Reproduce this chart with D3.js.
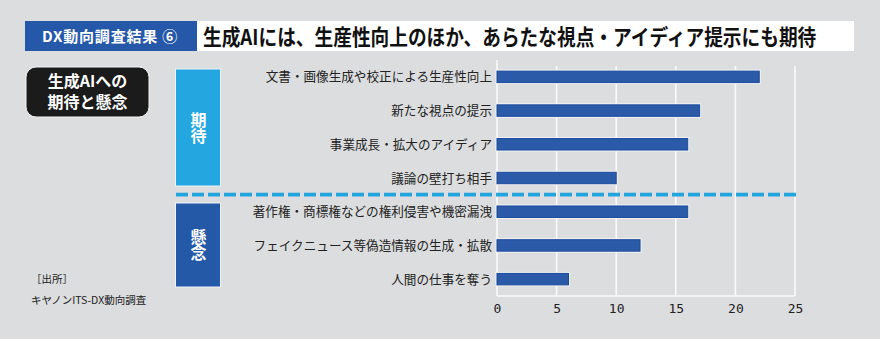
<!DOCTYPE html>
<html lang="ja">
<head>
<meta charset="utf-8">
<script src="https://cdn.jsdelivr.net/npm/d3@7"></script>
<style>
  html, body { margin: 0; padding: 0; background: #dcdddf; }
  svg { display: block; }
  text { font-family: "Noto Sans CJK JP", "Noto Sans", sans-serif; }
  .tick text { font-family: "DejaVu Sans Mono", monospace; }
  .vertical { writing-mode: vertical-rl; }
  .badge-label {
    font-family: "Noto Sans CJK JP", "Noto Sans", sans-serif;
    font-size: 16px; font-weight: 700; color: #fff;
    text-align: center; line-height: 20.5px;
    padding-top: 3.3px; margin: 0; width: 123px;
  }
</style>
</head>
<body>
<svg id="chart" width="880" height="339"></svg>
<script>
// Survey categories, top to bottom
const categories = [
  "文書・画像生成や校正による生産性向上",
  "新たな視点の提示",
  "事業成長・拡大のアイディア",
  "議論の壁打ち相手",
  "著作権・商標権などの権利侵害や機密漏洩",
  "フェイクニュース等偽造情報の生成・拡散",
  "人間の仕事を奪う"
];
// Response values per category
const values = [22, 17, 16, 10, 16, 12, 6];
// Group of each category: 期待 (expectation) or 懸念 (concern)
const groups = ["期待", "期待", "期待", "期待", "懸念", "懸念", "懸念"];
// X axis ticks
const xTicks = [0, 5, 10, 15, 20, 25];

const svg = d3.select("#chart");

// ---- Header ----
svg.append("rect").attr("x", 25).attr("y", 21).attr("width", 172).attr("height", 30)
  .attr("fill", "#2558a8");
svg.append("text").attr("x", 110).attr("y", 42).attr("text-anchor", "middle")
  .attr("fill", "#fff").attr("font-size", 15).attr("font-weight", 700)
  .attr("letter-spacing", 0.8)
  .text("DX動向調査結果 ⑥");
svg.append("rect").attr("x", 197).attr("y", 21).attr("width", 657).attr("height", 30)
  .attr("fill", "#fff");
// condensed headline: scale the glyphs horizontally to fit the bar
const headG = svg.append("g");
const head = headG.append("text").attr("x", 0).attr("y", 0)
  .attr("fill", "#111").attr("font-size", 21.5).attr("font-weight", 700)
  .text("生成AIには、生産性向上のほか、あらたな視点・アイディア提示にも期待");
const headLen = head.node().getComputedTextLength();
headG.attr("transform", `translate(203,44.5) scale(${614 / headLen},1)`);

// ---- Section badge (two-line label) ----
svg.append("rect").attr("x", 26).attr("y", 67).attr("width", 123).attr("height", 50)
  .attr("rx", 10).attr("fill", "#1b1b1b").attr("stroke", "#f4f4f4").attr("stroke-width", 1);
svg.append("foreignObject").attr("x", 26).attr("y", 67).attr("width", 123).attr("height", 50)
  .append("xhtml:div").attr("class", "badge-label")
  .html("生成AIへの<br>期待と懸念");

// ---- Source ----
svg.append("text").attr("x", 31).attr("y", 283).attr("fill", "#222").attr("font-size", 10.5).text("［出所］");
svg.append("text").attr("x", 31).attr("y", 304).attr("fill", "#222").attr("font-size", 10.5)
  .text("キヤノンITS-DX動向調査");

// ---- Bar chart ----
const x = d3.scaleLinear().domain([0, 25]).range([497, 795]);
const y = d3.scaleBand().domain(categories).range([60, 296])
  .paddingInner(0.66).paddingOuter(0.33);

// gridlines
svg.append("g").selectAll("line").data(xTicks).join("line")
  .attr("x1", d => x(d)).attr("x2", d => x(d))
  .attr("y1", d => d === 0 ? 60 : 66).attr("y2", 296)
  .attr("stroke", "#fbfbfb").attr("stroke-width", 1.5);
svg.append("line").attr("x1", x(0)).attr("x2", x(25)).attr("y1", 296).attr("y2", 296)
  .attr("stroke", "#fbfbfb").attr("stroke-width", 1.5);

// bars with a light halo
const bars = svg.append("g").selectAll("g").data(categories).join("g");
bars.append("rect")
  .attr("x", x(0)).attr("y", d => y(d))
  .attr("width", (d, i) => x(values[i]) - x(0)).attr("height", y.bandwidth())
  .attr("fill", "none").attr("stroke", "#f3f3f3").attr("stroke-width", 3);
bars.append("rect")
  .attr("x", x(0)).attr("y", d => y(d))
  .attr("width", (d, i) => x(values[i]) - x(0)).attr("height", y.bandwidth())
  .attr("fill", "#2b5aa8").attr("stroke", "#1a4a9c").attr("stroke-width", 1);

// category labels
svg.append("g").selectAll("text").data(categories).join("text")
  .attr("x", 492).attr("y", d => y(d) + y.bandwidth() / 2)
  .attr("dy", "0.36em").attr("text-anchor", "end")
  .attr("fill", "#222").attr("font-size", 12.6).text(d => d);

// x axis tick labels
const xAxis = svg.append("g").attr("transform", "translate(0,296)")
  .call(d3.axisBottom(x).tickValues(xTicks).tickSize(0).tickPadding(8));
xAxis.select(".domain").remove();
xAxis.selectAll("text").attr("font-size", 13).attr("fill", "#222");

// ---- Group panels (names come from the groups array) ----
const groupNames = Array.from(new Set(groups));
const panelStyle = {
  "期待": { fill: "#24a6e1", y0: 69, y1: 186 },
  "懸念": { fill: "#2459a8", y0: 203, y1: 287 }
};
groupNames.forEach(name => {
  const g = panelStyle[name];
  svg.append("rect").attr("x", 175.5).attr("y", g.y0).attr("width", 45).attr("height", g.y1 - g.y0)
    .attr("fill", g.fill).attr("stroke", "#eef3f8").attr("stroke-width", 1);
  svg.append("text").attr("class", "vertical")
    .attr("x", 198.5).attr("y", (g.y0 + g.y1) / 2)
    .attr("text-anchor", "middle").attr("fill", "#fff")
    .attr("font-size", 16).attr("font-weight", 700).text(name);
});

// dashed divider between the groups
svg.append("line").attr("x1", 176).attr("x2", 797).attr("y1", 194.7).attr("y2", 194.7)
  .attr("stroke", "#22a5df").attr("stroke-width", 3.8).attr("stroke-dasharray", "12 4");
</script>
</body>
</html>
